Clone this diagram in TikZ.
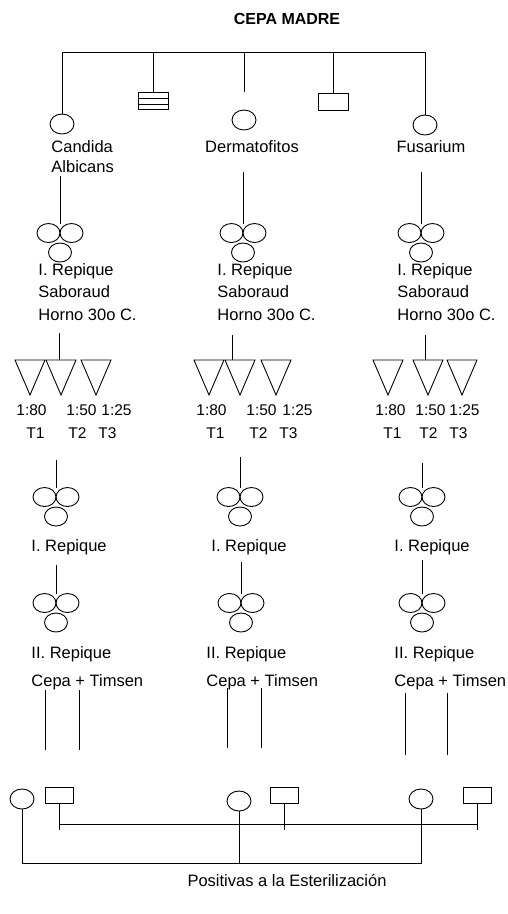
\documentclass[tikz,border=0pt]{standalone}
\usepackage{fontspec}
\setmainfont{Liberation Sans}
\usetikzlibrary{shapes.geometric}

\tikzset{
  nodo/.style={draw, ellipse, minimum width=24pt, minimum height=20pt, inner sep=0pt},
  colonia/.style={draw, ellipse, minimum width=23pt, minimum height=19pt, inner sep=0pt},
  placa/.style={draw, rectangle, minimum width=30pt, minimum height=17pt, inner sep=0pt},
  rayada/.style={placa, path picture={
      \draw ([yshift=3pt]path picture bounding box.west) -- ([yshift=3pt]path picture bounding box.east);
      \draw ([yshift=-3pt]path picture bounding box.west) -- ([yshift=-3pt]path picture bounding box.east);}},
  lbl/.style={font=\fontsize{16.5}{22.5}\selectfont, inner sep=1pt, align=left},
  dil/.style={lbl, font=\fontsize{15.5}{19}\selectfont, anchor=west},
  tres/.pic={
    \node[colonia] (-l) at (-11.5,0) {};
    \node[colonia] (-r) at (11.5,0) {};
    \node[colonia] (-b) at (0,19.5) {};
    \coordinate (-top) at (0,-9.5);
  },
  tubo/.pic={
    \draw (-15,0) -- (15,0) -- (0,35) -- cycle;
    \coordinate (-top) at (0,0);
  }
}

\begin{document}
\begin{tikzpicture}[x=1pt,y=-1pt,line width=0.9pt]
\useasboundingbox (0,0) rectangle (507,914);
\node[lbl, font=\fontsize{16}{19}\selectfont\bfseries] (titulo) at (287,19) {CEPA MADRE};

% cepa madre
\coordinate (izq) at (62,52);
\coordinate (der) at (425,52);
\coordinate (med) at (244,92);
\node[nodo] (ca) at (62,124) {};
\node[rayada] (p1) at (153,101) {};
\node[nodo] (de) at (244,120) {};
\node[placa] (p2) at (333,102) {};
\node[nodo] (fu) at (425,125) {};
\draw (ca.north) -- (izq) -- (der) -- (fu.north);
\draw (p1.north) -- (p1.north |- izq);
\draw (med) -- (med |- izq);
\draw (p2.north) -- (p2.north |- izq);
\node[lbl, font=\fontsize{16.5}{20}\selectfont, anchor=north west] (lca) at (50,139) {Candida\\Albicans};
\node[lbl] (lde) at (252,147) {Dermatofitos};
\node[lbl] (lfu) at (431,147) {Fusarium};

% primer repique
\pic (ta1) at (60,233) {tres};
\pic (ta2) at (243,233) {tres};
\pic (ta3) at (421,233) {tres};
\coordinate (sa1) at (60,176);
\coordinate (sa2) at (243,172);
\coordinate (sa3) at (421,172);
\draw (sa1) -- (ta1-top);
\draw (sa2) -- (ta2-top);
\draw (sa3) -- (ta3-top);
\node[lbl, anchor=north west] (ra1) at (37,262) {I. Repique\\Saboraud\\Horno 30o C.};
\node[lbl, anchor=north west] (ra2) at (216,262) {I. Repique\\Saboraud\\Horno 30o C.};
\node[lbl, anchor=north west] (ra3) at (396,262) {I. Repique\\Saboraud\\Horno 30o C.};

% diluciones
\foreach \x [count=\i] in {30,61,96} \pic (t1\i) at (\x,360) {tubo};
\foreach \x [count=\i] in {209,240,276} \pic (t2\i) at (\x,360) {tubo};
\foreach \x [count=\i] in {388,428,462} \pic (t3\i) at (\x,360) {tubo};
\coordinate (ha1) at (59,333);
\coordinate (ha2) at (232,335);
\coordinate (ha3) at (425,335);
\draw (ha1) -- (ha1 |- t12-top);
\draw (ha2) -- (ha2 |- t22-top);
\draw (ha3) -- (ha3 |- t32-top);
\foreach \x/\d [count=\i] in {15/1:80,65/1:50,100/1:25} \node[dil] (d1\i) at (\x,410) {\d};
\foreach \x/\d [count=\i] in {195/1:80,245/1:50,281/1:25} \node[dil] (d2\i) at (\x,410) {\d};
\foreach \x/\d [count=\i] in {374/1:80,414/1:50,448/1:25} \node[dil] (d3\i) at (\x,410) {\d};
\foreach \x [count=\i] in {25,67,97} \node[dil] (e1\i) at (\x,433) {T\i};
\foreach \x [count=\i] in {205,248,278} \node[dil] (e2\i) at (\x,433) {T\i};
\foreach \x [count=\i] in {382,418,448} \node[dil] (e3\i) at (\x,433) {T\i};

% I. repique
\pic (tb1) at (56,497) {tres};
\pic (tb2) at (240,497) {tres};
\pic (tb3) at (422,497) {tres};
\coordinate (sb1) at (56,460);
\coordinate (sb2) at (240,457);
\coordinate (sb3) at (422,463);
\draw (sb1) -- (tb1-top);
\draw (sb2) -- (tb2-top);
\draw (sb3) -- (tb3-top);
\node[lbl, anchor=west] (rb1) at (30,547) {I. Repique};
\node[lbl, anchor=west] (rb2) at (210,547) {I. Repique};
\node[lbl, anchor=west] (rb3) at (393,547) {I. Repique};

% II. repique
\pic (tc1) at (56,603) {tres};
\pic (tc2) at (241,603) {tres};
\pic (tc3) at (422,603) {tres};
\coordinate (sc1) at (56,565);
\coordinate (sc2) at (241,562);
\coordinate (sc3) at (422,560);
\draw (sc1) -- (tc1-top);
\draw (sc2) -- (tc2-top);
\draw (sc3) -- (tc3-top);
\node[lbl, anchor=north west] (rc1) at (30,645) {II. Repique\\[5.5pt]Cepa + Timsen};
\node[lbl, anchor=north west] (rc2) at (205,645) {II. Repique\\[5.5pt]Cepa + Timsen};
\node[lbl, anchor=north west] (rc3) at (393,645) {II. Repique\\[5.5pt]Cepa + Timsen};

\foreach \x/\ya/\yb [count=\i] in {45/690/750,79/690/750,227/688/748,261/688/748,405/693/755,447/693/755} {
  \coordinate (v\i) at (\x,\ya);
  \coordinate (w\i) at (\x,\yb);
  \draw (v\i) -- (w\i);
}

% positivas
\coordinate (bq) at (0,824);
\coordinate (fq) at (0,830);
\coordinate (bn) at (0,863);
\node[nodo] (n1) at (22,799) {};
\node[nodo] (n2) at (239,801) {};
\node[nodo] (n3) at (421,799) {};
\node[placa, minimum width=28pt, minimum height=16pt] (q1) at (59,795) {};
\node[placa, minimum width=28pt, minimum height=16pt] (q2) at (284,795) {};
\node[placa, minimum width=28pt, minimum height=16pt] (q3) at (477,795) {};
\draw (q1.south) -- (q1 |- fq);
\draw (q2.south) -- (q2 |- fq);
\draw (q3.south) -- (q3 |- fq);
\draw (q1 |- bq) -- (q3 |- bq);
\draw (n1.south) -- (n1 |- bn) -- (n3 |- bn) -- (n3.south);
\draw (n2.south) -- (n2 |- bn);
\node[lbl] (pos) at (287,880) {Positivas a la Esterilización};
\end{tikzpicture}
\end{document}
